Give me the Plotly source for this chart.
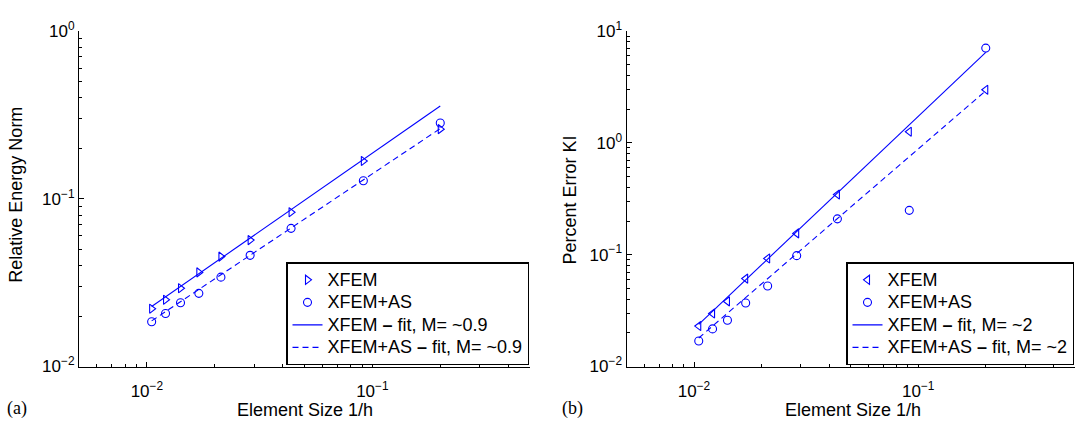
import plotly.graph_objects as go

# ---------------- data ----------------
elem_size = [0.0105, 0.0121, 0.0141, 0.0170, 0.0213, 0.0287, 0.0436, 0.0912, 0.200]

# panel (a): relative energy norm
a_xfem = [0.0221, 0.0250, 0.0293, 0.0364, 0.0452, 0.0567, 0.0831, 0.168, 0.260]
a_xfem_as = [0.0185, 0.0207, 0.0240, 0.0273, 0.0341, 0.0460, 0.0666, 0.128, 0.283]

# panel (b): percent error KI
b_xfem = [0.0230, 0.0298, 0.0382, 0.0611, 0.0925, 0.155, 0.345, 1.256, 2.98]
b_xfem_as = [0.0169, 0.0217, 0.0259, 0.0370, 0.0525, 0.098, 0.209, 0.249, 7.03]

# fitted power-law lines (end values)
fit_x = [0.0105, 0.200]
a_fit_xfem = [0.0228, 0.357]
a_fit_xfem_as = [0.0187, 0.262]
b_fit_xfem = [0.0238, 6.45]
b_fit_xfem_as = [0.0180, 2.92]

a_names = ["XFEM", "XFEM+AS", "XFEM <b>\u2013</b> fit, M= ~0.9", "XFEM+AS <b>\u2013</b> fit, M= ~0.9"]
b_names = ["XFEM", "XFEM+AS", "XFEM <b>\u2013</b> fit, M= ~2", "XFEM+AS <b>\u2013</b> fit, M= ~2"]

x_tickvals = [0.01, 0.1]
x_ticktext = ["10<sup>\u22122</sup>", "10<sup>\u22121</sup>"]
a_y_tickvals = [0.01, 0.1, 1]
a_y_ticktext = ["10<sup>\u22122</sup>", "10<sup>\u22121</sup>", "10<sup>0</sup>"]
b_y_tickvals = [0.01, 0.1, 1, 10]
b_y_ticktext = ["10<sup>\u22122</sup>", "10<sup>\u22121</sup>", "10<sup>0</sup>", "10<sup>1</sup>"]

x_label = "Element Size 1/h"
a_y_label = "Relative Energy Norm"
b_y_label = "Percent Error KI"

BLUE = "#0000ff"
FONT = "Liberation Sans, Arial, Helvetica, sans-serif"
W, H = 1075, 433


def minor_vals(lo_exp, hi_exp, upto=None):
    vals = []
    for e in range(lo_exp, hi_exp):
        for m in range(2, 10):
            v = m * 10.0 ** e
            if upto is None or v <= upto + 1e-12:
                vals.append(v)
    return vals


def big(name):
    # larger rendered text while the legend row height follows the smaller base font
    return '<span style="font-size:18px">' + name + '</span>'


fig = go.Figure()

# ---------- panel (a) ----------
fig.add_trace(go.Scatter(x=elem_size, y=a_xfem, mode="markers", name=big(a_names[0]),
                         marker=dict(symbol="triangle-right-open", size=8, color=BLUE, line=dict(width=1.1, color=BLUE)),
                         xaxis="x", yaxis="y", legend="legend"))
fig.add_trace(go.Scatter(x=elem_size, y=a_xfem_as, mode="markers", name=big(a_names[1]),
                         marker=dict(symbol="circle-open", size=8, color=BLUE, line=dict(width=1.1, color=BLUE)),
                         xaxis="x", yaxis="y", legend="legend"))
fig.add_trace(go.Scatter(x=fit_x, y=a_fit_xfem, mode="lines", name=big(a_names[2]),
                         line=dict(color=BLUE, width=1.1),
                         xaxis="x", yaxis="y", legend="legend"))
fig.add_trace(go.Scatter(x=fit_x, y=a_fit_xfem_as, mode="lines", name=big(a_names[3]),
                         line=dict(color=BLUE, width=1.1, dash="6px,4px"),
                         xaxis="x", yaxis="y", legend="legend"))

# ---------- panel (b) ----------
fig.add_trace(go.Scatter(x=elem_size, y=b_xfem, mode="markers", name=big(b_names[0]),
                         marker=dict(symbol="triangle-left-open", size=8, color=BLUE, line=dict(width=1.1, color=BLUE)),
                         xaxis="x2", yaxis="y2", legend="legend2"))
fig.add_trace(go.Scatter(x=elem_size, y=b_xfem_as, mode="markers", name=big(b_names[1]),
                         marker=dict(symbol="circle-open", size=8, color=BLUE, line=dict(width=1.1, color=BLUE)),
                         xaxis="x2", yaxis="y2", legend="legend2"))
fig.add_trace(go.Scatter(x=fit_x, y=b_fit_xfem, mode="lines", name=big(b_names[2]),
                         line=dict(color=BLUE, width=1.1),
                         xaxis="x2", yaxis="y2", legend="legend2"))
fig.add_trace(go.Scatter(x=fit_x, y=b_fit_xfem_as, mode="lines", name=big(b_names[3]),
                         line=dict(color=BLUE, width=1.1, dash="6px,4px"),
                         xaxis="x2", yaxis="y2", legend="legend2"))

y_dom = [1 - 373.5 / H, 1 - 20 / H]

common_axis = dict(type="log", showgrid=False, zeroline=False, showline=True,
                   linecolor="black", linewidth=1, ticks="inside", ticklen=5,
                   tickwidth=1, tickcolor="black", tickmode="array",
                   tickfont=dict(family=FONT, size=17, color="black"), mirror=False)

x_minor = dict(ticks="inside", ticklen=3, tickwidth=1, tickcolor="black",
               tickmode="array", tickvals=minor_vals(-3, 0, upto=0.5), showgrid=False)

legend_common = dict(xanchor="right", yanchor="bottom", bgcolor="white",
                     bordercolor="black", borderwidth=1.5,
                     font=dict(family=FONT, size=15, color="black"), tracegroupgap=0)

fig.update_layout(
    width=W, height=H,
    margin=dict(l=0, r=0, t=0, b=0),
    paper_bgcolor="white", plot_bgcolor="white",
    font=dict(family=FONT, size=17, color="black"),
    xaxis=dict(common_axis, domain=[79 / W, 530 / W], range=[-2.301, -0.301],
               tickvals=x_tickvals, ticktext=x_ticktext, anchor="y", minor=x_minor,
               ticklabelstandoff=9),
    yaxis=dict(common_axis, domain=y_dom, range=[-2, 0], anchor="x",
               tickvals=a_y_tickvals, ticktext=a_y_ticktext,
               minor=dict(ticks="inside", ticklen=3, tickwidth=1, tickcolor="black",
                          tickmode="array", tickvals=minor_vals(-2, 0), showgrid=False)),
    xaxis2=dict(common_axis, domain=[626.5 / W, 1.0], range=[-2.301, -0.301],
                tickvals=x_tickvals, ticktext=x_ticktext, anchor="y2", minor=x_minor,
                ticklabelstandoff=9),
    yaxis2=dict(common_axis, domain=y_dom, range=[-2, 1], anchor="x2",
                tickvals=b_y_tickvals, ticktext=b_y_ticktext,
                minor=dict(ticks="inside", ticklen=3, tickwidth=1, tickcolor="black",
                           tickmode="array", tickvals=minor_vals(-2, 1), showgrid=False)),
    legend=dict(legend_common, x=529 / W, y=1 - 372 / H),
    legend2=dict(legend_common, x=1074 / W, y=1 - 372 / H),
    showlegend=True,
)

annots = [
    dict(text=a_y_label, x=16.5 / W, y=1 - 193 / H, textangle=-90),
    dict(text=b_y_label, x=569.5 / W, y=1 - 198 / H, textangle=-90),
    dict(text=x_label, x=305 / W, y=1 - 419 / H),
    dict(text=x_label, x=853 / W, y=1 - 419 / H),
]
for a in annots:
    fig.add_annotation(xref="paper", yref="paper", xanchor="center", yanchor="middle",
                       showarrow=False, font=dict(family=FONT, size=18, color="black"), **a)

for lab, xc in [("(a)", 17), ("(b)", 572)]:
    fig.add_annotation(text=lab, xref="paper", yref="paper", x=xc / W, y=1 - 418 / H,
                       xanchor="center", yanchor="middle", showarrow=False,
                       font=dict(family="Liberation Serif, Times New Roman, serif", size=18, color="black"))

fig.write_html("out.html")
